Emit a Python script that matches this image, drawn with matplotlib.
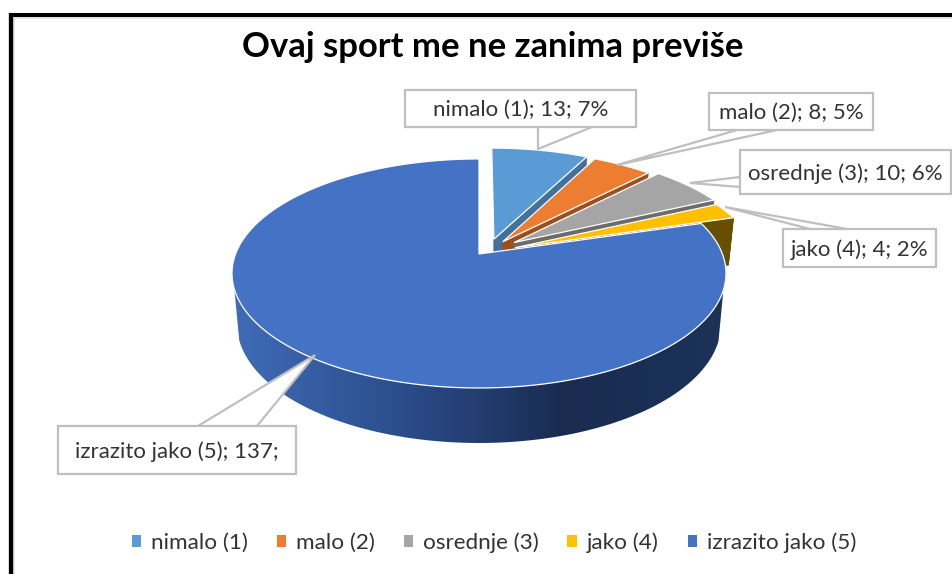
import numpy as np
import matplotlib
matplotlib.use('Agg')
import matplotlib.pyplot as plt
from matplotlib.colors import LinearSegmentedColormap
from matplotlib.patches import Polygon, Patch, Rectangle

categories = ['nimalo (1)', 'malo (2)', 'osrednje (3)', 'jako (4)', 'izrazito jako (5)']
values = [13, 8, 10, 4, 137]
label_texts = ['nimalo (1); 13; 7%', 'malo (2); 8; 5%', 'osrednje (3); 10; 6%', 'jako (4); 4; 2%', 'izrazito jako (5); 137;']

colors = ['#5B9BD5', '#ED7D31', '#A5A5A5', '#FFC000', '#4472C4']
dark_colors = ['#41719C', '#9C4F1E', '#6B6B6B', '#665000', '#2F5597']
explode = [0.15, 0.15, 0.18, 0.16, 0.0]
explode_turn = [11, 6, 0, 0, 0]

# picture geometry in pixels, the pie is a circle seen in perspective
apex_x, apex_y = 479, 254
persp_a, persp_b, persp_k = 243.4, 111.2, 0.17

plt.rcParams['font.family'] = ['Lato', 'DejaVu Sans']
text_color = '#333333'

fig = plt.figure(figsize=(9.52, 5.74), dpi=100)
ax = fig.add_axes([0, 0, 1, 1])
ax.set_xlim(0, 952)
ax.set_ylim(574, 0)
ax.axis('off')


def project(theta, r, off_u, off_v, lower=False):
    u = r * np.sin(theta) + off_u
    v = r * np.cos(theta) + off_v
    w = 1 + persp_k * v
    x = persp_a * u / w
    y = apex_y - persp_b * v / w
    if lower:
        # the bottom of the pie is a bit narrower and the wall is longer in front
        x = x * 0.98
        y = y + 49.3 - 5.7 * v
    return np.column_stack([apex_x + x, y])


wall_cmap = LinearSegmentedColormap.from_list('wall', ['#406CB8', '#2C4E8C', '#192C50', '#1C3258'])

total = sum(values)
angles = np.cumsum([0] + values) / total * 2 * np.pi

for i in range(len(values)):
    t1, t2 = angles[i], angles[i + 1]
    mid = (t1 + t2) / 2 + np.radians(explode_turn[i])
    ou, ov = explode[i] * np.sin(mid), explode[i] * np.cos(mid)
    theta = np.linspace(t1, t2, max(int(np.degrees(t2 - t1)) * 2, 8))
    rim = project(theta, 1, ou, ov)
    centre = project(np.array([0.0]), 0, ou, ov)
    centre_low = project(np.array([0.0]), 0, ou, ov, lower=True)

    # only the part of the wall that faces the viewer
    limit = -0.3 if i == 4 else 0.45
    front = theta[np.cos(theta) < limit]
    if len(front) > 1:
        wall = np.vstack([project(front, 1, ou, ov), project(front, 1, ou, ov, lower=True)[::-1]])
        if i == 4:
            # big slice: horizontal gradient clipped to the wall
            wall_patch = Polygon(wall, closed=True, facecolor='none', edgecolor='none')
            ax.add_patch(wall_patch)
            im = ax.imshow(np.linspace(0, 1, 256).reshape(1, -1), cmap=wall_cmap, aspect='auto',
                           extent=(230, 730, 450, 200), zorder=2 + i)
            im.set_clip_path(wall_patch)
            ax.set_xlim(0, 952)
            ax.set_ylim(574, 0)
        else:
            ax.add_patch(Polygon(wall, closed=True, facecolor=dark_colors[i], edgecolor=dark_colors[i], lw=0.5, zorder=2 + i))
    if i < 4:
        # cut face at the clockwise end
        end_low = project(theta[-1:], 1, ou, ov, lower=True)
        cut = [centre[0], rim[-1], end_low[0], centre_low[0]]
        ax.add_patch(Polygon(cut, closed=True, facecolor=dark_colors[i], edgecolor=dark_colors[i], lw=0.5, zorder=2 + i))
    top = np.vstack([centre, rim])
    ax.add_patch(Polygon(top, closed=True, facecolor=colors[i], edgecolor='white', lw=0.9, zorder=2 + i))

# callouts: box (left, top, right, bottom), tip and the two points on the box edge
boxes = [(405, 90, 636, 127), (709, 93, 873, 130), (740, 150, 951, 194), (783, 229, 936, 267), (58, 426, 296, 474)]
tips = [(538, 149), (617, 165), (690, 183), (725, 207), (315, 355)]
bases = [((538, 127), (592, 127)), ((737, 130), (777, 130)), ((740, 177), (740, 187)), ((810, 229), (847, 229)), ((198, 426), (257, 426))]
line_gray = '#BFBFBF'
for text, box, tip, base in zip(label_texts, boxes, tips, bases):
    l, t, r, b = box
    ax.add_patch(Polygon([base[0], tip, base[1]], closed=False, facecolor='white', edgecolor=line_gray, lw=1.6, zorder=10))
    ax.add_patch(Rectangle((l, t), r - l, b - t, facecolor='white', edgecolor=line_gray, lw=1.6, zorder=11))
    ax.text((l + r) / 2, (t + b) / 2 + 1.5, text, ha='center', va='center', fontsize=16, color=text_color, zorder=12)

ax.text(493, 47, 'Ovaj sport me ne zanima previše', ha='center', va='center', fontsize=24.9, fontweight='bold', color='black')

handles = [Patch(facecolor=c, label=n) for c, n in zip(colors, categories)]
ax.legend(handles=handles, ncol=5, loc='center', bbox_to_anchor=(494 / 952, 1 - 543 / 574), frameon=False, fontsize=16.2,
          handlelength=0.42, handleheight=0.42, handletextpad=0.45, columnspacing=1.27, labelcolor=text_color)

# black frame of the screenshot
ax.plot([14.3, 14.3], [574, 18], color='#E6E6E6', lw=1.4, solid_capstyle='butt', zorder=19)
ax.plot([14, 952], [18, 18], color='#E6E6E6', lw=1.4, solid_capstyle='butt', zorder=19)
ax.plot([11.2, 11.2], [574, 13], color='black', lw=3.1, solid_capstyle='butt', zorder=20)
ax.plot([9, 952], [15, 15], color='black', lw=2.9, solid_capstyle='butt', zorder=20)

fig.savefig('out.png', dpi=100)
